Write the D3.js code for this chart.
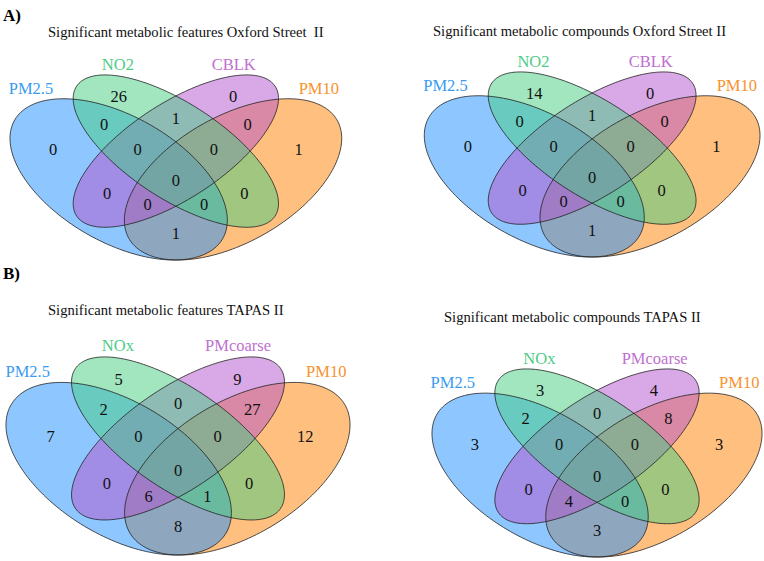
<!DOCTYPE html>
<html><head><meta charset="utf-8">
<script src="https://cdn.jsdelivr.net/npm/d3@7"></script>
<style>body{margin:0;background:#fff} svg{display:block} text{font-family:"Liberation Serif","Times New Roman",serif}</style>
</head><body><svg id="c" width="764" height="561"></svg>
<script>
// ---- data ----
const regionKeys = ["A","B","C","D","AB","AC","AD","BC","BD","CD","ABC","ABD","ACD","BCD","ABCD"];
const setsOxford = ["PM2.5","NO2","CBLK","PM10"];
const setsTapas  = ["PM2.5","NOx","PMcoarse","PM10"];
const countsFeaturesOxford  = [0,26,0,1, 0,0,1,1,0,0, 0,0,0,0, 0];
const countsCompoundsOxford = [0,14,0,1, 0,0,1,1,0,0, 0,0,0,0, 0];
const countsFeaturesTapas   = [7,5,9,12, 2,0,8,0,0,27, 0,1,6,0, 0];
const countsCompoundsTapas  = [3,3,4,3, 2,0,3,0,0,8, 0,0,4,0, 0];
const titles = [
  "Significant metabolic features Oxford Street  II",
  "Significant metabolic compounds Oxford Street II",
  "Significant metabolic features TAPAS II",
  "Significant metabolic compounds TAPAS II"
];
const panelTags = ["A)","B)"];

// ---- style / layout ----
const setColors = ["#1E90FF","#43CD80","#B452CD","#FF7F00"];
const catColors = ["#3A9BEF","#4FCB86","#C070CF","#F7922F"];
const fillOrder = [3,0,2,1];
const ellipses = [
  {cx:.35, cy:.47, a:.35, b:.20, rot:-45},
  {cx:.50, cy:.57, a:.35, b:.15, rot:-45},
  {cx:.50, cy:.57, a:.35, b:.15, rot: 45},
  {cx:.65, cy:.47, a:.35, b:.20, rot: 45}
];
const labelPos = {A:[0.178,0.577],B:[0.35,0.764],C:[0.65,0.764],D:[0.822,0.577],
  AB:[0.312,0.666],CD:[0.688,0.666],BC:[0.5,0.685],ABC:[0.40,0.576],BCD:[0.60,0.576],
  ABCD:[0.5,0.466],AC:[0.32,0.42],BD:[0.68,0.42],ACD:[0.426,0.38],ABD:[0.574,0.38],AD:[0.5,0.278]};
const catPos = [[0.12,0.793],[0.348,0.876],[0.652,0.876],[0.875,0.793]];

const panels = [
  {title:titles[0], sets:setsOxford, counts:countsFeaturesOxford,  box:[10,341.7,75,260],  tx:48,  ty:37},
  {title:titles[1], sets:setsOxford, counts:countsCompoundsOxford, box:[424.3,760,72,257], tx:433, ty:36},
  {title:titles[2], sets:setsTapas,  counts:countsFeaturesTapas,   box:[6,350,357,555],    tx:48,  ty:315},
  {title:titles[3], sets:setsTapas,  counts:countsCompoundsTapas,  box:[432,762,369,557],  tx:444, ty:322}
];

const svg = d3.select("#c");

svg.append("text").attr("x",3).attr("y",21).text(panelTags[0])
  .attr("font-weight","bold").attr("font-size",17);
svg.append("text").attr("x",3).attr("y",279).text(panelTags[1])
  .attr("font-weight","bold").attr("font-size",17);

panels.forEach(p => {
  const g = svg.append("g");
  const x = d3.scaleLinear().domain([0.065,0.935]).range([p.box[0],p.box[1]]);
  const y = d3.scaleLinear().domain([0.185,0.839]).range([p.box[3],p.box[2]]);
  const line = d3.line().x(d=>x(d[0])).y(d=>y(d[1])).curve(d3.curveLinearClosed);
  const pts = e => d3.range(0,360,2).map(t=>{
    const tr=t*Math.PI/180, r=e.rot*Math.PI/180;
    return [e.cx + e.a*Math.cos(tr)*Math.cos(r) - e.b*Math.sin(tr)*Math.sin(r),
            e.cy + e.a*Math.cos(tr)*Math.sin(r) + e.b*Math.sin(tr)*Math.cos(r)];
  });
  g.selectAll("path.fill").data(fillOrder).join("path").attr("class","fill")
    .attr("d",i=>line(pts(ellipses[i]))).attr("fill",i=>setColors[i]).attr("fill-opacity",0.5).attr("stroke","none");
  g.selectAll("path.edge").data(ellipses).join("path").attr("class","edge")
    .attr("d",e=>line(pts(e))).attr("fill","none").attr("stroke","#222").attr("stroke-width",0.8);
  g.selectAll("text.num").data(regionKeys).join("text").attr("class","num")
    .attr("x",k=>x(labelPos[k][0])).attr("y",k=>y(labelPos[k][1])).attr("dy","0.34em")
    .attr("text-anchor","middle").attr("font-size",16.5).attr("fill","#111")
    .text((k,i)=>p.counts[i]);
  g.selectAll("text.cat").data(p.sets).join("text").attr("class","cat")
    .attr("x",(d,i)=>x(catPos[i][0])).attr("y",(d,i)=>y(catPos[i][1])).attr("dy","0.34em")
    .attr("text-anchor","middle").attr("font-size",16.5)
    .attr("fill",(d,i)=>catColors[i]).text(d=>d);
  g.append("text").attr("x",p.tx).attr("y",p.ty).attr("font-size",14.6)
    .style("white-space","pre").attr("fill","#111").text(p.title);
});
</script></body></html>
